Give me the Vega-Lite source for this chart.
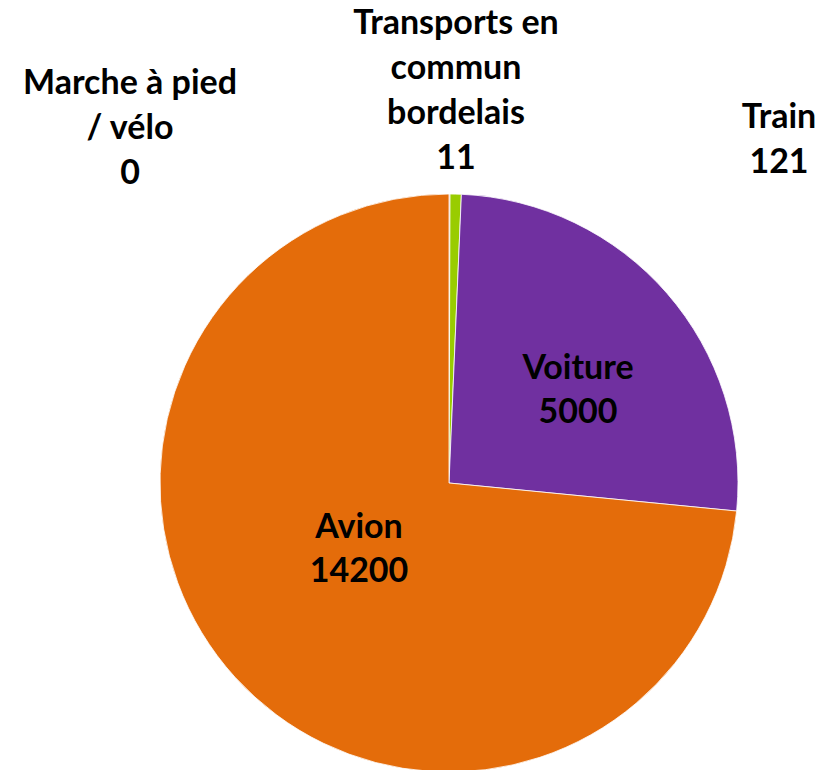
{
  "$schema": "https://vega.github.io/schema/vega-lite/v6.json",
  "width": 782,
  "height": 574,
  "autosize": {"type": "none"},
  "padding": {"left": 58, "top": 196, "right": 0, "bottom": 0},
  "background": "#ffffff",
  "data": {
    "values": [
      {"mode": "Marche à pied\n/ vélo", "valeur": 0, "ordre": 1},
      {"mode": "Transports en\ncommun\nbordelais", "valeur": 11, "ordre": 2},
      {"mode": "Train", "valeur": 121, "ordre": 3},
      {"mode": "Voiture", "valeur": 5000, "ordre": 4},
      {"mode": "Avion", "valeur": 14200, "ordre": 5}
    ]
  },
  "transform": [
    {"calculate": "datum.mode + '\\n' + datum.valeur", "as": "etiquette"}
  ],
  "layer": [
    {
      "mark": {"type": "arc", "outerRadius": 289, "stroke": "#ffffff", "strokeWidth": 0.8},
      "encoding": {
        "theta": {"field": "valeur", "type": "quantitative", "stack": true},
        "order": {"field": "ordre", "type": "quantitative", "sort": "ascending"},
        "color": {
          "field": "mode",
          "type": "nominal",
          "scale": {
            "domain": ["Marche à pied\n/ vélo", "Transports en\ncommun\nbordelais", "Train", "Voiture", "Avion"],
            "range": ["#4F81BD", "#C0504D", "#99CC00", "#7030A0", "#E46C0A"]
          },
          "legend": null
        }
      }
    },
    {
      "transform": [{"filter": "datum.ordre == 1"}],
      "mark": {"type": "text", "font": "Lato", "fontWeight": "bold", "fontSize": 34, "lineBreak": "\n", "lineHeight": 45, "align": "center", "baseline": "middle", "dx": -319, "dy": -399, "color": "#000000"},
      "encoding": {"text": {"field": "etiquette", "type": "nominal"}}
    },
    {
      "transform": [{"filter": "datum.ordre == 2"}],
      "mark": {"type": "text", "font": "Lato", "fontWeight": "bold", "fontSize": 34, "lineBreak": "\n", "lineHeight": 45, "align": "center", "baseline": "middle", "dx": 7, "dy": -459, "color": "#000000"},
      "encoding": {"text": {"field": "etiquette", "type": "nominal"}}
    },
    {
      "transform": [{"filter": "datum.ordre == 3"}],
      "mark": {"type": "text", "font": "Lato", "fontWeight": "bold", "fontSize": 34, "lineBreak": "\n", "lineHeight": 45, "align": "center", "baseline": "middle", "dx": 330, "dy": -365, "color": "#000000"},
      "encoding": {"text": {"field": "etiquette", "type": "nominal"}}
    },
    {
      "transform": [{"filter": "datum.ordre == 4"}],
      "mark": {"type": "text", "font": "Lato", "fontWeight": "bold", "fontSize": 34, "lineBreak": "\n", "lineHeight": 44, "align": "center", "baseline": "middle", "dx": 129, "dy": -114, "color": "#000000"},
      "encoding": {"text": {"field": "etiquette", "type": "nominal"}}
    },
    {
      "transform": [{"filter": "datum.ordre == 5"}],
      "mark": {"type": "text", "font": "Lato", "fontWeight": "bold", "fontSize": 34, "lineBreak": "\n", "lineHeight": 44, "align": "center", "baseline": "middle", "dx": -90, "dy": 45, "color": "#000000"},
      "encoding": {"text": {"field": "etiquette", "type": "nominal"}}
    }
  ],
  "config": {"view": {"stroke": null}}
}
